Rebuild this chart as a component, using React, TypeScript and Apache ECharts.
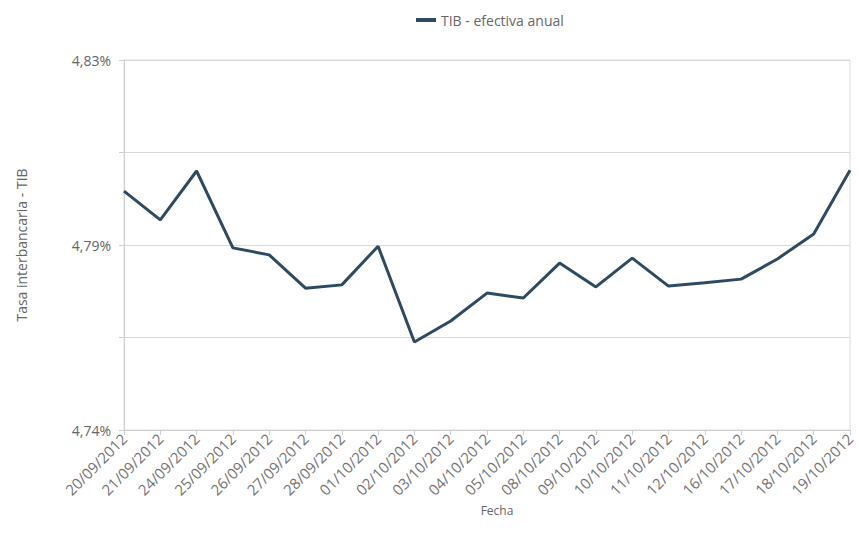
import React, { useEffect, useRef } from "react";
import * as echarts from "echarts";

const categories = [
  "20/09/2012", "21/09/2012", "24/09/2012", "25/09/2012", "26/09/2012",
  "27/09/2012", "28/09/2012", "01/10/2012", "02/10/2012", "03/10/2012",
  "04/10/2012", "05/10/2012", "08/10/2012", "09/10/2012", "10/10/2012",
  "11/10/2012", "12/10/2012", "16/10/2012", "17/10/2012", "18/10/2012",
  "19/10/2012",
];

const tibValues = [
  4.7981, 4.7911, 4.8030, 4.7843, 4.7826, 4.7745, 4.7753, 4.7847, 4.7614,
  4.7665, 4.7733, 4.7721, 4.7806, 4.7748, 4.7818, 4.7750, 4.7758, 4.7767,
  4.7816, 4.7877, 4.8032,
];

const yMin = 4.74;
const yMax = 4.83;
const yStep = 0.0225;
const yTickLabels = ["4,74%", "", "4,79%", "", "4,83%"];

const seriesName = "TIB - efectiva anual";
const yName = "Tasa interbancaria - TIB";
const xName = "Fecha";

export default function App() {
  const ref = useRef<HTMLDivElement>(null);
  useEffect(() => {
    if (!ref.current) return;
    const chart = echarts.init(ref.current, null, { renderer: "svg" });
    const font = "'Open Sans', 'DejaVu Sans', sans-serif";
    chart.setOption({
      animation: false,
      backgroundColor: "#ffffff",
      textStyle: { fontFamily: font },
      legend: {
        top: 8,
        left: 411,
        itemWidth: 20,
        itemHeight: 4,
        itemGap: 3,
        textStyle: { color: "#666", fontSize: 14, fontFamily: font },
        data: [{ name: seriesName, icon: "rect" }],
      },
      grid: {
        left: 124,
        right: 9,
        top: 60,
        bottom: 114,
        show: true,
        borderColor: "#dcdcdc",
        borderWidth: 1,
      },
      xAxis: {
        type: "category",
        data: categories,
        boundaryGap: false,
        name: xName,
        nameLocation: "middle",
        nameGap: 68,
        nameTextStyle: { color: "#666", fontSize: 12, padding: [0, 0, 0, 20] },
        axisLine: { lineStyle: { color: "#cfcfcf" } },
        axisTick: { show: true, alignWithLabel: true, length: 5, lineStyle: { color: "#cfcfcf" } },
        axisLabel: {
          rotate: 45,
          interval: 0,
          color: "#737373",
          fontSize: 15,
          margin: 6,
        },
        splitLine: { show: false },
      },
      yAxis: {
        type: "value",
        min: yMin,
        max: yMax,
        interval: yStep,
        name: yName,
        nameLocation: "middle",
        nameGap: 96,
        nameTextStyle: { color: "#666", fontSize: 14 },
        axisLine: { show: true, lineStyle: { color: "#cfcfcf" } },
        axisTick: { show: true, length: 5, lineStyle: { color: "#cfcfcf" } },
        axisLabel: {
          color: "#666",
          fontSize: 14,
          margin: 13,
          formatter: (v: number) => {
            const i = Math.round((v - yMin) / yStep);
            return yTickLabels[i] ?? "";
          },
        },
        splitLine: { show: true, lineStyle: { color: "#d9d9d9", width: 1 } },
      },
      series: [
        {
          name: seriesName,
          type: "line",
          data: tibValues,
          symbol: "none",
          showSymbol: false,
          lineStyle: { color: "#2e4962", width: 3 },
          itemStyle: { color: "#2e4962" },
        },
      ],
    });
    return () => chart.dispose();
  }, []);
  return (
    <div
      ref={ref}
      style={{ position: "absolute", left: 0, top: 0, width: 859, height: 544 }}
    />
  );
}
